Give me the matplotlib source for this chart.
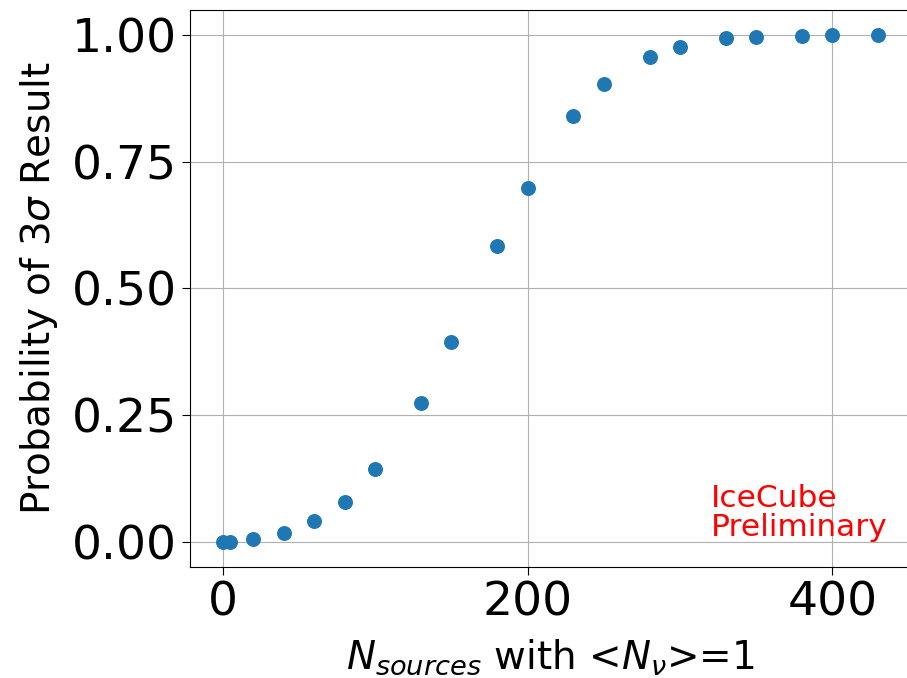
import numpy as np
import matplotlib
matplotlib.use('Agg')
import matplotlib.pyplot as plt

# number of sources vs. probability of a 3 sigma result
n_sources = [0, 5, 20, 40, 60, 80, 100, 130, 150, 180, 200, 230, 250, 280, 300, 330, 350, 380, 400, 430]
prob_3sigma = [0.0, 0.0, 0.006, 0.018, 0.04, 0.079, 0.144, 0.274, 0.394, 0.584, 0.698,
               0.840, 0.903, 0.957, 0.976, 0.994, 0.996, 0.998, 1.0, 1.0]

fig = plt.figure(figsize=(9.07, 6.78), dpi=100)
ax = fig.add_axes([190/907, 1 - 567/678, (911 - 190)/907, (567 - 10)/678])
ax.scatter(n_sources, prob_3sigma, s=95, color='#1f77b4', zorder=3)
ax.set_xlim(-21.5, 451.5)
ax.set_ylim(-0.05, 1.05)
ax.set_xticks([0, 200, 400])
ax.set_yticks([0, 0.25, 0.5, 0.75, 1.0])
ax.set_yticklabels(['0.00', '0.25', '0.50', '0.75', '1.00'])
ax.tick_params(labelsize=34, length=6)
ax.grid(True)
ax.set_xlabel(r'$N_{sources}$ with <$N_{\nu}$>=1', fontsize=28, labelpad=9)
ax.set_ylabel(r'Probability of 3$\sigma$ Result', fontsize=28, labelpad=8)
ax.text(320, 0.0, 'IceCube\nPreliminary', color='red', fontsize=22.5, va='bottom',
        linespacing=1.0)
fig.savefig('out.png', dpi=100)
